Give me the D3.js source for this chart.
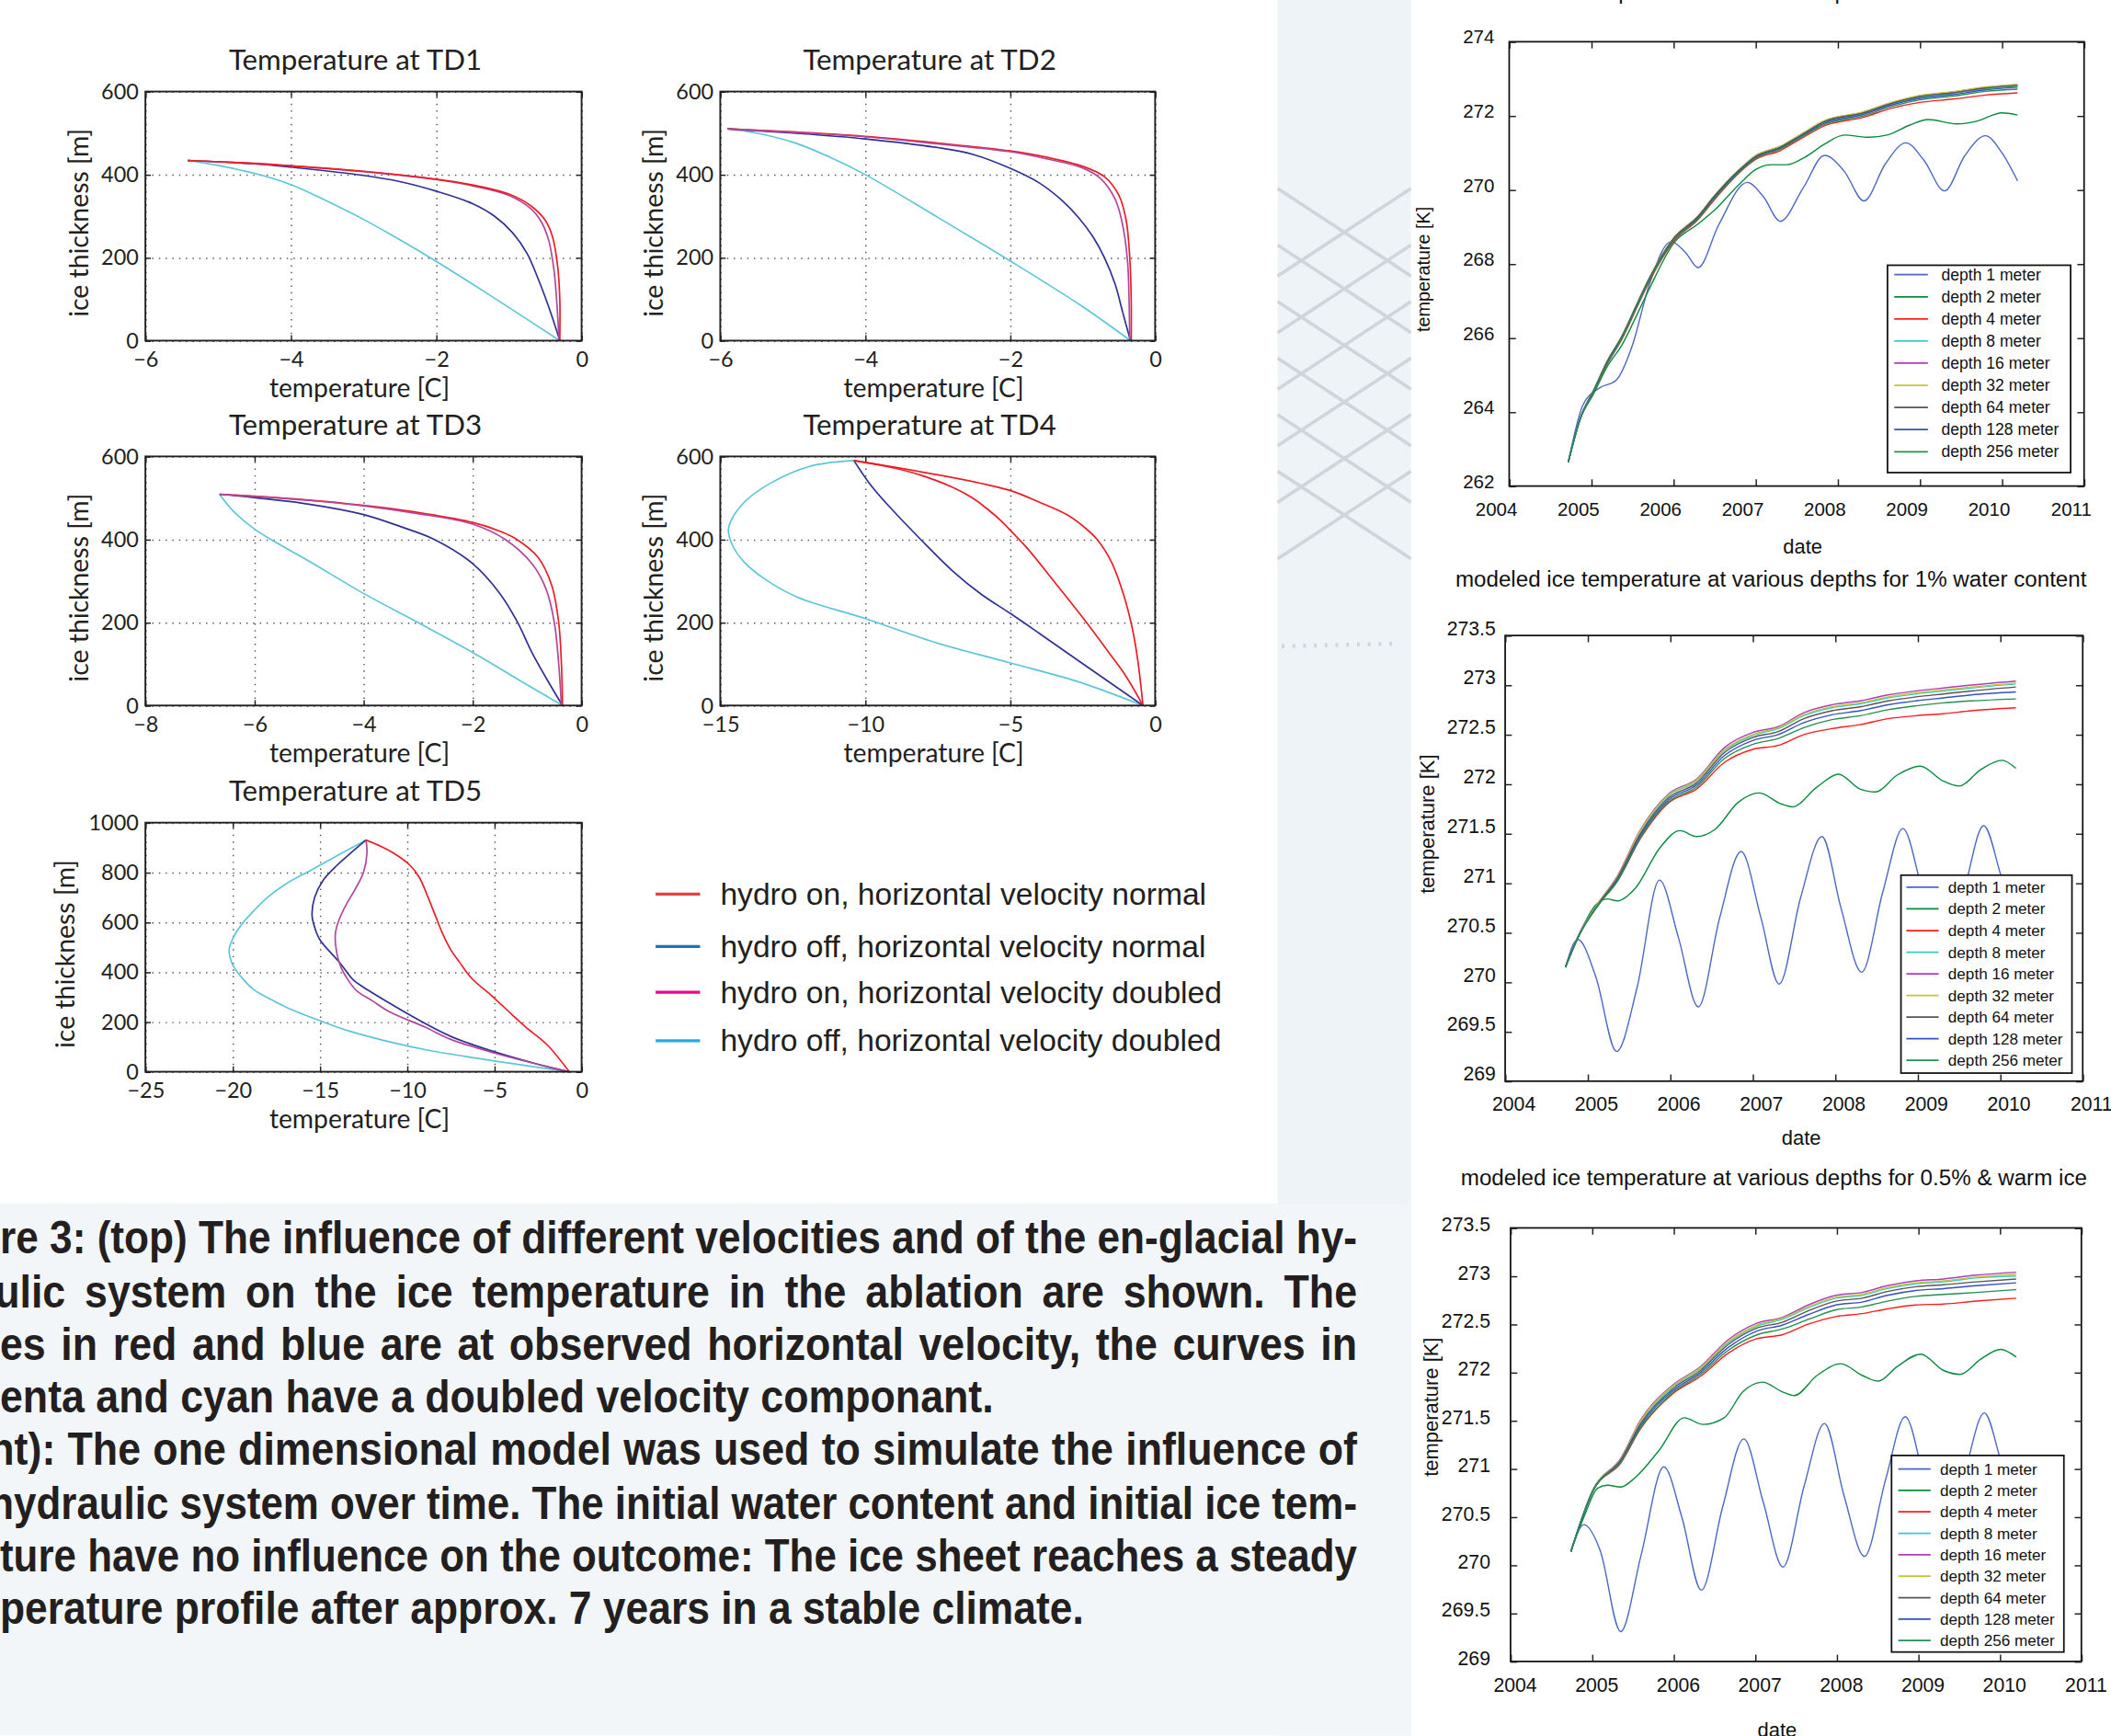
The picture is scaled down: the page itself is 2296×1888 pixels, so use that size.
<!DOCTYPE html>
<html>
<head>
<meta charset="utf-8">
<script src="https://cdn.jsdelivr.net/npm/d3@7"></script>
<style>
  body { margin: 0; background: #fff; }
  svg { display: block; }
</style>
</head>
<body>
<div id="chart"></div>
<script>
const W = 2296;
const H = 1888;
const S = W / 1568; // layout numbers below are in a 1568-wide frame, scaled up once

// ---------- temperature profiles: [temperature C, ice thickness m] ----------
const td1Red = [[-5.42,434],[-4.5,427],[-4,421],[-3,408],[-2,389],[-1.5,375],[-1,353],[-0.7,325],[-0.5,290],[-0.4,250],[-0.33,180],[-0.3,100],[-0.3,0]];
const td1Blue = [[-5.42,434],[-4.5,426],[-4,418],[-3,398],[-2.5,383],[-2,360],[-1.5,330],[-1.2,300],[-0.95,260],[-0.75,210],[-0.6,150],[-0.45,80],[-0.3,0]];
const td1Magenta = [[-5.42,434],[-4,421],[-3,407],[-2,388],[-1.5,373],[-1,350],[-0.7,318],[-0.55,285],[-0.45,240],[-0.38,170],[-0.34,90],[-0.31,0]];
const td1Cyan = [[-5.42,434],[-5,422],[-4.5,403],[-4,376],[-3.5,336],[-3,292],[-2.5,243],[-2,191],[-1.5,136],[-1,80],[-0.3,0]];

const td2Red = [[-5.9,510],[-5,503],[-4,492],[-3,476],[-2,457],[-1.5,442],[-1,420],[-0.7,395],[-0.5,350],[-0.4,290],[-0.35,200],[-0.33,100],[-0.33,0]];
const td2Blue = [[-5.9,510],[-5,500],[-4,486],[-3,465],[-2.5,448],[-2,415],[-1.6,380],[-1.3,340],[-1.05,295],[-0.85,248],[-0.7,200],[-0.55,135],[-0.45,70],[-0.34,0]];
const td2Magenta = [[-5.9,510],[-5,502],[-4,491],[-3,474],[-2,455],[-1.5,438],[-1,416],[-0.75,390],[-0.55,340],[-0.45,280],[-0.38,190],[-0.36,100],[-0.35,0]];
const td2Cyan = [[-5.9,510],[-5.5,500],[-5,478],[-4.5,443],[-4,400],[-3,297],[-2,192],[-1,82],[-0.34,0]];

const td3Red = [[-6.64,509],[-5,495],[-4,482],[-3,465],[-2,441],[-1.5,420],[-1.2,401],[-0.8,357],[-0.55,290],[-0.42,200],[-0.37,100],[-0.35,0]];
const td3Blue = [[-6.64,509],[-5,485],[-4,460],[-3.3,430],[-2.7,400],[-2,342],[-1.5,270],[-1.18,202],[-0.9,125],[-0.6,55],[-0.35,0]];
const td3Magenta = [[-6.64,509],[-5,494],[-4,481],[-3,462],[-2,437],[-1.4,400],[-0.9,340],[-0.65,280],[-0.5,200],[-0.42,100],[-0.37,0]];
const td3Cyan = [[-6.64,509],[-6.4,470],[-6,425],[-5.5,385],[-5,348],[-4,270],[-3,200],[-2,128],[-1,50],[-0.35,0]];

const td4Red = [[-10.39,590],[-8,562],[-6,535],[-5,518],[-4,490],[-3,458],[-2.45,430],[-2,400],[-1.5,345],[-1.1,270],[-0.8,190],[-0.6,110],[-0.42,0]];
const td4Blue = [[-10.39,590],[-9.8,530],[-9.1,474],[-8.1,401],[-7,325],[-6,268],[-5,222],[-4,174],[-2.5,101],[-0.42,0]];
const td4Magenta = [[-10.39,590],[-9,572],[-8,553],[-7,526],[-6.3,500],[-5.8,474],[-5.3,444],[-4.9,415],[-4.4,378],[-3.5,300],[-2.5,212],[-1.6,128],[-1,70],[-0.42,0]];
const td4Cyan = [[-10.39,590],[-11.92,576],[-13.33,533],[-14.18,489],[-14.63,445],[-14.72,423],[-14.58,386],[-14.18,346],[-13.47,305],[-12.34,261],[-10.02,210],[-7.68,154],[-5.02,103],[-2.73,59],[-0.42,0]];

const td5Red = [[-12.36,930],[-11.5,905],[-10.8,879],[-9.85,830],[-9.3,780],[-8.8,700],[-8.4,630],[-8,560],[-7.5,490],[-7,440],[-6.3,375],[-5.1,302],[-4,230],[-3.2,179],[-2,110],[-0.71,0]];
const td5Blue = [[-12.36,930],[-13.2,880],[-14,830],[-14.8,770],[-15.3,700],[-15.45,630],[-15.3,580],[-15,530],[-13.85,437],[-13.1,370],[-12.2,326],[-11,275],[-9.85,228],[-7.5,142],[-5,80],[-2.5,30],[-0.71,0]];
const td5Magenta = [[-12.36,930],[-12.3,880],[-12.5,800],[-13,730],[-13.5,670],[-13.9,610],[-14.1,560],[-14.1,510],[-13.85,430],[-13.4,370],[-12.9,326],[-12,285],[-11,240],[-9,180],[-7.5,130],[-5,75],[-2.5,30],[-0.71,0]];
const td5Cyan = [[-12.36,930],[-14,868],[-15.5,810],[-16.9,756],[-18,700],[-18.8,645],[-19.5,590],[-19.95,540],[-20.2,490],[-20,430],[-19.5,380],[-18.8,330],[-17.8,290],[-16.9,258],[-15,205],[-13.4,165],[-11,120],[-8.7,85],[-6,54],[-4,33],[-0.71,0]];

const profileLegend = [
  "hydro on, horizontal velocity normal",
  "hydro off, horizontal velocity normal",
  "hydro on, horizontal velocity doubled",
  "hydro off, horizontal velocity doubled"
];

// ---------- modeled ice temperature time series [K] ----------
const years = [2004, 2005, 2006, 2007, 2008, 2009, 2010, 2011];
const depthLabels = ["depth 1 meter", "depth 2 meter", "depth 4 meter", "depth 8 meter", "depth 16 meter",
  "depth 32 meter", "depth 64 meter", "depth 128 meter", "depth 256 meter"];

// panel A (top)
const aDepth1 = [[2004.72,262.65],[2004.9,264.2],[2005.1,264.65],[2005.3,264.85],[2005.5,265.8],[2005.7,267.4],[2005.97,268.6],[2006.15,268.3],[2006.3,267.9],[2006.55,269.05],[2006.9,270.2],[2007.1,269.8],[2007.3,269.15],[2007.58,270.05],[2007.84,270.93],[2008.08,270.5],[2008.32,269.7],[2008.58,270.7],[2008.83,271.27],[2009.05,270.8],[2009.3,269.97],[2009.55,270.93],[2009.8,271.46],[2010.0,271.0],[2010.19,270.24]];
const aDepth2 = [[2004.72,262.65],[2004.86,263.78],[2005.03,264.5],[2005.2,265.25],[2005.37,265.8],[2005.55,266.6],[2005.7,267.3],[2006.0,268.55],[2006.3,269.08],[2006.5,269.45],[2006.8,270.15],[2007.0,270.55],[2007.2,270.68],[2007.38,270.68],[2007.6,270.88],[2007.85,271.25],[2008.08,271.48],[2008.38,271.42],[2008.6,271.48],[2008.88,271.75],[2009.1,271.9],[2009.45,271.78],[2009.7,271.86],[2010.0,272.08],[2010.19,272.02]];
const aTimes = [2004.72, 2004.86, 2005.03, 2005.2, 2005.37, 2005.55, 2005.7, 2006.0, 2006.3, 2006.5, 2006.8, 2007.0, 2007.3, 2007.55, 2007.85, 2008.3, 2008.65, 2009.0, 2009.4, 2009.8, 2010.19];
const aDepth4 = [262.65, 263.78, 264.55, 265.32, 265.96, 266.8, 267.5, 268.6, 269.2, 269.74, 270.46, 270.82, 271.06, 271.38, 271.74, 271.95, 272.2, 272.36, 272.45, 272.56, 272.62];
const aDepth8 = [262.65, 263.79, 264.58, 265.38, 266.02, 266.87, 267.57, 268.67, 269.27, 269.82, 270.52, 270.89, 271.14, 271.46, 271.84, 272.06, 272.32, 272.5, 272.6, 272.73, 272.8];
const aDepth16 = [262.65, 263.8, 264.6, 265.4, 266.04, 266.89, 267.59, 268.69, 269.29, 269.84, 270.54, 270.92, 271.17, 271.49, 271.87, 272.09, 272.35, 272.54, 272.64, 272.77, 272.84];
const aDepth32 = [262.65, 263.8, 264.6, 265.4, 266.05, 266.9, 267.6, 268.7, 269.3, 269.85, 270.55, 270.93, 271.18, 271.5, 271.88, 272.1, 272.36, 272.55, 272.65, 272.78, 272.85];
const aDepth64 = [262.65, 263.8, 264.59, 265.39, 266.03, 266.88, 267.58, 268.68, 269.28, 269.83, 270.53, 270.9, 271.15, 271.47, 271.85, 272.07, 272.33, 272.52, 272.62, 272.75, 272.82];
const aDepth128 = [262.65, 263.79, 264.57, 265.36, 266.0, 266.85, 267.55, 268.65, 269.25, 269.8, 270.5, 270.87, 271.12, 271.44, 271.81, 272.03, 272.29, 272.47, 272.57, 272.7, 272.77];
const aDepth256 = [262.65, 263.78, 264.56, 265.34, 265.98, 266.83, 267.53, 268.63, 269.22, 269.77, 270.48, 270.85, 271.1, 271.42, 271.78, 271.99, 272.25, 272.43, 272.53, 272.66, 272.72];

// panel B (1% water content)
const bDepth1 = [[2004.73,270.15],[2004.88,270.43],[2005.1,270.05],[2005.35,269.3],[2005.6,269.95],[2005.87,271.03],[2006.1,270.45],[2006.34,269.75],[2006.6,270.65],[2006.86,271.32],[2007.1,270.65],[2007.32,269.98],[2007.58,270.85],[2007.84,271.47],[2008.07,270.75],[2008.32,270.1],[2008.58,270.92],[2008.82,271.55],[2009.05,270.95],[2009.32,270.2],[2009.57,270.95],[2009.8,271.58],[2010.0,271.1],[2010.19,270.5]];
const bDepth2 = [[2004.73,270.15],[2004.9,270.49],[2005.1,270.78],[2005.24,270.84],[2005.36,270.82],[2005.58,270.95],[2005.87,271.35],[2006.12,271.53],[2006.32,271.47],[2006.54,271.54],[2006.83,271.82],[2007.08,271.91],[2007.34,271.8],[2007.48,271.77],[2007.78,271.97],[2008.04,272.1],[2008.3,271.95],[2008.49,271.92],[2008.75,272.09],[2009.03,272.18],[2009.31,272.03],[2009.5,271.98],[2009.77,272.15],[2010.02,272.24],[2010.19,272.16]];
const bTimes = [2004.73, 2004.9, 2005.13, 2005.36, 2005.64, 2005.98, 2006.32, 2006.66, 2007.0, 2007.31, 2007.62, 2007.96, 2008.3, 2008.64, 2008.98, 2009.31, 2009.65, 2010.19];
const bDepth4 = [270.15, 270.48, 270.78, 271.02, 271.45, 271.81, 271.95, 272.22, 272.35, 272.39, 272.5, 272.56, 272.6, 272.66, 272.69, 272.71, 272.74, 272.77];
const bDepth8 = [270.15, 270.49, 270.8, 271.06, 271.52, 271.88, 272.03, 272.34, 272.49, 272.56, 272.69, 272.77, 272.81, 272.87, 272.91, 272.94, 272.97, 273.01];
const bDepth16 = [270.15, 270.49, 270.8, 271.07, 271.54, 271.9, 272.05, 272.37, 272.52, 272.58, 272.72, 272.8, 272.84, 272.9, 272.94, 272.97, 273.0, 273.04];
const bDepth32 = [270.15, 270.49, 270.8, 271.06, 271.53, 271.89, 272.04, 272.35, 272.5, 272.57, 272.7, 272.78, 272.82, 272.88, 272.92, 272.95, 272.98, 273.02];
const bDepth64 = [270.15, 270.48, 270.79, 271.05, 271.5, 271.86, 272.01, 272.32, 272.47, 272.53, 272.66, 272.74, 272.78, 272.84, 272.88, 272.91, 272.94, 272.98];
const bDepth128 = [270.15, 270.48, 270.78, 271.03, 271.48, 271.84, 271.99, 272.29, 272.44, 272.5, 272.62, 272.7, 272.74, 272.8, 272.84, 272.87, 272.9, 272.93];
const bDepth256 = [270.15, 270.48, 270.78, 271.02, 271.46, 271.82, 271.97, 272.26, 272.4, 272.46, 272.57, 272.65, 272.69, 272.75, 272.79, 272.82, 272.84, 272.86];

// panel C (0.5% & warm ice)
const cDepth1 = [[2004.74,270.14],[2004.9,270.42],[2005.1,270.15],[2005.35,269.31],[2005.6,270.1],[2005.88,271.02],[2006.1,270.5],[2006.34,269.74],[2006.6,270.6],[2006.86,271.31],[2007.1,270.65],[2007.34,269.98],[2007.6,270.82],[2007.85,271.47],[2008.09,270.72],[2008.34,270.09],[2008.6,270.89],[2008.84,271.54],[2009.07,270.9],[2009.32,270.15],[2009.57,270.95],[2009.81,271.58],[2010.0,271.12],[2010.2,270.5]];
const cDepth2 = [[2004.74,270.14],[2004.9,270.5],[2005.07,270.8],[2005.19,270.83],[2005.35,270.81],[2005.53,270.91],[2005.82,271.19],[2006.13,271.53],[2006.36,271.46],[2006.62,271.53],[2006.85,271.8],[2007.09,271.9],[2007.33,271.8],[2007.48,271.76],[2007.76,271.97],[2008.05,272.09],[2008.31,271.97],[2008.51,271.91],[2008.74,272.06],[2009.03,272.19],[2009.31,272.02],[2009.51,271.98],[2009.77,272.14],[2010.01,272.24],[2010.2,272.16]];
const cTimes = [2004.74, 2005.01, 2005.36, 2005.59, 2005.99, 2006.33, 2006.67, 2007.02, 2007.33, 2007.65, 2007.99, 2008.31, 2008.62, 2008.97, 2009.31, 2009.71, 2010.2];
const cDepth4 = [270.14, 270.77, 271.07, 271.41, 271.78, 271.96, 272.2, 272.35, 272.39, 272.5, 272.58, 272.61, 272.66, 272.7, 272.71, 272.74, 272.77];
const cDepth8 = [270.14, 270.78, 271.11, 271.48, 271.85, 272.04, 272.31, 272.48, 272.55, 272.67, 272.77, 272.8, 272.87, 272.92, 272.94, 272.98, 273.0];
const cDepth16 = [270.14, 270.78, 271.12, 271.5, 271.87, 272.06, 272.34, 272.51, 272.57, 272.7, 272.8, 272.83, 272.9, 272.95, 272.97, 273.01, 273.04];
const cDepth32 = [270.14, 270.78, 271.11, 271.49, 271.86, 272.05, 272.32, 272.49, 272.56, 272.68, 272.78, 272.81, 272.88, 272.93, 272.95, 272.99, 273.02];
const cDepth64 = [270.14, 270.77, 271.1, 271.46, 271.83, 272.02, 272.29, 272.46, 272.52, 272.64, 272.74, 272.77, 272.84, 272.89, 272.91, 272.94, 272.97];
const cDepth128 = [270.14, 270.77, 271.09, 271.44, 271.81, 272.0, 272.26, 272.43, 272.49, 272.6, 272.7, 272.73, 272.8, 272.85, 272.87, 272.9, 272.93];
const cDepth256 = [270.14, 270.77, 271.08, 271.42, 271.79, 271.98, 272.23, 272.39, 272.45, 272.55, 272.65, 272.68, 272.74, 272.79, 272.81, 272.83, 272.86];

const captionLines = [
  "re 3: (top) The influence of different velocities and of the en-glacial hy-",
  "ulic system on the ice temperature in the ablation are shown. The",
  "es in red and blue are at observed horizontal velocity, the curves in",
  "enta and cyan have a doubled velocity componant.",
  "nt): The one dimensional model was used to simulate the influence of",
  "hydraulic system over time. The initial water content and initial ice tem-",
  "ture have no influence on the outcome: The ice sheet reaches a steady",
  "perature profile after approx. 7 years in a stable climate."
];

// ---------- styling ----------
const INK = "#231f20";
const leftFont = "Lato, 'Open Sans', sans-serif";
const arial = "'Liberation Sans', Arial, sans-serif";
const curveColors = { red: "#ed1c24", blue: "#2e3192", magenta: "#b0479d", cyan: "#5cc6d8" };
const legendColors = ["#e8403a", "#1c75bc", "#ec008c", "#27aae1"];
const depthColors = ["#4a67c4", "#0a8a3c", "#ff1c1c", "#3cc8c8", "#b03cb8", "#c4c43c", "#555555", "#3650bf", "#219150"];

const svg = d3.select("#chart").append("svg").attr("width", W).attr("height", H);
const root = svg.append("g").attr("transform", `scale(${S})`);

// poster background
root.append("rect").attr("width", 1568).attr("height", 1289).attr("fill", "#fff");
root.append("rect").attr("x", 949).attr("y", 0).attr("width", 99).attr("height", 1289).attr("fill", "#eef3f8");
root.append("rect").attr("x", 0).attr("y", 894).attr("width", 1048).attr("height", 395).attr("fill", "#f2f6f9");
const texture = root.append("g").attr("stroke", "#c3c9d0").attr("stroke-width", 2.5).attr("opacity", 0.7);
d3.range(6).forEach(i => {
  texture.append("line").attr("x1", 949).attr("y1", 140 + i * 42).attr("x2", 1048).attr("y2", 205 + i * 42);
  texture.append("line").attr("x1", 949).attr("y1", 205 + i * 42).attr("x2", 1048).attr("y2", 140 + i * 42);
});
texture.append("line").attr("x1", 952).attr("y1", 480).attr("x2", 1040).attr("y2", 478)
  .attr("stroke-dasharray", "2,6").attr("stroke-width", 3);

function fitWidth(sel, target) {
  const fs = +sel.attr("font-size");
  const w = sel.node().getComputedTextLength();
  const nf = fs * target / w;
  sel.attr("font-size", nf);
  return nf;
}

// ---------- profile panels ----------
const profilePanels = [
  { title: "Temperature at TD1", x0: 108, x1: 432, y0: 68, y1: 253, xDomain: [-6, 0], xTicks: [-6, -4, -2, 0], yDomain: [0, 600], yTicks: [0, 200, 400, 600], ylx: 58,
    series: [[td1Cyan, "cyan"], [td1Blue, "blue"], [td1Magenta, "magenta"], [td1Red, "red"]] },
  { title: "Temperature at TD2", x0: 535, x1: 858, y0: 68, y1: 253, xDomain: [-6, 0], xTicks: [-6, -4, -2, 0], yDomain: [0, 600], yTicks: [0, 200, 400, 600], ylx: 485,
    series: [[td2Cyan, "cyan"], [td2Blue, "blue"], [td2Red, "red"], [td2Magenta, "magenta"]] },
  { title: "Temperature at TD3", x0: 108, x1: 432, y0: 339, y1: 524, xDomain: [-8, 0], xTicks: [-8, -6, -4, -2, 0], yDomain: [0, 600], yTicks: [0, 200, 400, 600], ylx: 58,
    series: [[td3Cyan, "cyan"], [td3Blue, "blue"], [td3Red, "red"], [td3Magenta, "magenta"]] },
  { title: "Temperature at TD4", x0: 535, x1: 858, y0: 339, y1: 524, xDomain: [-15, 0], xTicks: [-15, -10, -5, 0], yDomain: [0, 600], yTicks: [0, 200, 400, 600], ylx: 485,
    series: [[td4Cyan, "cyan"], [td4Blue, "blue"], [td4Magenta, "red"], [td4Red, "red"]] },
  { title: "Temperature at TD5", x0: 108, x1: 432, y0: 611, y1: 796, xDomain: [-25, 0], xTicks: [-25, -20, -15, -10, -5, 0], yDomain: [0, 1000], yTicks: [0, 200, 400, 600, 800, 1000], ylx: 48,
    series: [[td5Cyan, "cyan"], [td5Blue, "blue"], [td5Magenta, "magenta"], [td5Red, "red"]] }
];

let titleFs = null, xlabFs = null, ylabFs = null;
const intFmt = d3.format("d");

function styleAxis(a, fs, family) {
  a.select(".domain").remove();
  a.selectAll(".tick line").attr("stroke", INK).attr("stroke-width", 1);
  a.selectAll("text").attr("font-size", fs).attr("font-family", family).attr("fill", INK);
}

profilePanels.forEach(p => {
  const g = root.append("g");
  const x = d3.scaleLinear().domain(p.xDomain).range([p.x0, p.x1]);
  const y = d3.scaleLinear().domain(p.yDomain).range([p.y1, p.y0]);
  const w = p.x1 - p.x0, h = p.y1 - p.y0;

  // dotted grid
  g.append("g").attr("transform", `translate(0,${p.y1})`)
    .call(d3.axisBottom(x).tickValues(p.xTicks).tickSize(-h).tickFormat(""))
    .call(a => a.select(".domain").remove())
    .selectAll("line").attr("stroke", "#555").attr("stroke-width", 1).attr("stroke-dasharray", "1,4");
  g.append("g").attr("transform", `translate(${p.x0},0)`)
    .call(d3.axisLeft(y).tickValues(p.yTicks).tickSize(-w).tickFormat(""))
    .call(a => a.select(".domain").remove())
    .selectAll("line").attr("stroke", "#555").attr("stroke-width", 1).attr("stroke-dasharray", "1,4");

  const line = d3.line().x(d => x(d[0])).y(d => y(d[1])).curve(d3.curveCatmullRom.alpha(0.5));
  p.series.forEach(([data, c]) => {
    g.append("path").attr("d", line(data)).attr("fill", "none")
      .attr("stroke", curveColors[c]).attr("stroke-width", 1.15);
  });

  g.append("rect").attr("x", p.x0).attr("y", p.y0).attr("width", w).attr("height", h)
    .attr("fill", "none").attr("stroke", INK).attr("stroke-width", 1.3);

  g.append("g").attr("transform", `translate(0,${p.y1})`)
    .call(d3.axisBottom(x).tickValues(p.xTicks).tickSize(-4).tickPadding(8).tickFormat(intFmt))
    .call(a => styleAxis(a, 16, leftFont));
  g.append("g").attr("transform", `translate(0,${p.y0})`)
    .call(d3.axisTop(x).tickValues(p.xTicks).tickSize(-4).tickFormat(""))
    .call(a => styleAxis(a, 16, leftFont));
  g.append("g").attr("transform", `translate(${p.x0},0)`)
    .call(d3.axisLeft(y).tickValues(p.yTicks).tickSize(-4).tickPadding(5).tickFormat(intFmt))
    .call(a => styleAxis(a, 16, leftFont));
  g.append("g").attr("transform", `translate(${p.x1},0)`)
    .call(d3.axisRight(y).tickValues(p.yTicks).tickSize(-4).tickFormat(""))
    .call(a => styleAxis(a, 16, leftFont));

  const cx = (p.x0 + p.x1) / 2;
  const t = g.append("text").attr("x", cx - 6).attr("y", p.y0 - 16).attr("text-anchor", "middle")
    .attr("font-family", leftFont).attr("font-size", titleFs || 20).attr("fill", INK).text(p.title);
  if (!titleFs) titleFs = fitWidth(t, 188);

  const xl = g.append("text").attr("x", cx - 3).attr("y", p.y1 + 42).attr("text-anchor", "middle")
    .attr("font-family", leftFont).attr("font-size", xlabFs || 18).attr("fill", INK).text("temperature [C]");
  if (!xlabFs) xlabFs = fitWidth(xl, 134);

  const yl = g.append("text").attr("transform", `translate(${p.ylx},${(p.y0 + p.y1) / 2 + 5}) rotate(-90)`)
    .attr("text-anchor", "middle").attr("dominant-baseline", "central")
    .attr("font-family", leftFont).attr("font-size", ylabFs || 18).attr("fill", INK).text("ice thickness [m]");
  if (!ylabFs) ylabFs = fitWidth(yl, 140);
});

// profile legend
const legRows = [664, 703, 737, 773];
let legFs = null;
profileLegend.forEach((label, i) => {
  root.append("line").attr("x1", 487).attr("x2", 520).attr("y1", legRows[i]).attr("y2", legRows[i])
    .attr("stroke", legendColors[i]).attr("stroke-width", 2.2);
  const t = root.append("text").attr("x", 535).attr("y", legRows[i]).attr("dominant-baseline", "central")
    .attr("font-family", arial).attr("font-size", legFs || 22).attr("fill", INK).text(label);
  if (!legFs) legFs = fitWidth(t, 361);
});

// ---------- time series panels ----------
const clusterDepths = (times, arrays) => arrays.map(vals => d3.zip(times, vals));
const panelA = {
  x0: 1121, x1: 1548, y0: 31, y1: 361, yDomain: [262, 274], yTicks: [262, 264, 266, 268, 270, 272, 274],
  xDx: -10, yPad: 11, yDy: -4, tickFs: 14, title: "modeled ice temperature at various depths for 2% water content",
  titleY: -1, titleX: 1081, ylab: [1057, 200, 13.5], date: [1339, 411],
  legend: { x0: 1402, x1: 1538, y0: 197, y1: 351, r0: 204, r1: 335.5, s0: 1407, s1: 1432, tx: 1442, fs: 12 },
  series: [aDepth1, aDepth2, ...clusterDepths(aTimes, [aDepth4, aDepth8, aDepth16, aDepth32, aDepth64, aDepth128, aDepth256])]
};
const halfTicks = [269, 269.5, 270, 270.5, 271, 271.5, 272, 272.5, 273, 273.5];
const panelB = {
  x0: 1118, x1: 1547, y0: 472, y1: 803, yDomain: [269, 273.5], yTicks: halfTicks,
  xDx: 6, yPad: 7, yDy: -6, tickFs: 14.5, title: "modeled ice temperature at various depths for 1% water content",
  titleY: 436, titleX: 1081, ylab: [1060, 612, 15], date: [1338, 850],
  legend: { x0: 1412, x1: 1539, y0: 650, y1: 797, r0: 659, r1: 787.5, s0: 1416, s1: 1440, tx: 1447, fs: 11.7 },
  series: [bDepth1, bDepth2, ...clusterDepths(bTimes, [bDepth4, bDepth8, bDepth16, bDepth32, bDepth64, bDepth128, bDepth256])]
};
const panelC = {
  x0: 1122, x1: 1546, y0: 912, y1: 1234, yDomain: [269, 273.5], yTicks: halfTicks,
  xDx: 3, yPad: 15, yDy: -3, tickFs: 14.5, title: "modeled ice temperature at various depths for 0.5% & warm ice",
  titleY: 880, titleX: 1085, ylab: [1063, 1045, 15], date: [1320, 1290],
  legend: { x0: 1405, x1: 1533, y0: 1081, y1: 1227, r0: 1091, r1: 1218.5, s0: 1410, s1: 1434, tx: 1441, fs: 11.7 },
  series: [cDepth1, cDepth2, ...clusterDepths(cTimes, [cDepth4, cDepth8, cDepth16, cDepth32, cDepth64, cDepth128, cDepth256])]
};

let tsTitleFs = null;
[panelB, panelA, panelC].forEach(p => {
  const g = root.append("g");
  const x = d3.scaleLinear().domain([2004, 2011]).range([p.x0, p.x1]);
  const y = d3.scaleLinear().domain(p.yDomain).range([p.y1, p.y0]);
  const line = d3.line().x(d => x(d[0])).y(d => y(d[1])).curve(d3.curveMonotoneX);

  p.series.forEach((data, i) => {
    g.append("path").attr("d", line(data)).attr("fill", "none")
      .attr("stroke", depthColors[i]).attr("stroke-width", 0.95);
  });

  g.append("rect").attr("x", p.x0).attr("y", p.y0).attr("width", p.x1 - p.x0).attr("height", p.y1 - p.y0)
    .attr("fill", "none").attr("stroke", "#111").attr("stroke-width", 1.2);

  const bx = g.append("g").attr("transform", `translate(0,${p.y1})`)
    .call(d3.axisBottom(x).tickValues(years).tickSize(-5).tickPadding(12).tickFormat(intFmt))
    .call(a => styleAxis(a, p.tickFs, arial));
  bx.selectAll("text").attr("dx", p.xDx).attr("fill", "#111");
  g.append("g").attr("transform", `translate(0,${p.y0})`)
    .call(d3.axisTop(x).tickValues(years).tickSize(-5).tickFormat(""))
    .call(a => styleAxis(a, p.tickFs, arial));
  const ly = g.append("g").attr("transform", `translate(${p.x0},0)`)
    .call(d3.axisLeft(y).tickValues(p.yTicks).tickSize(-5).tickPadding(p.yPad).tickFormat(d => String(d)))
    .call(a => styleAxis(a, p.tickFs, arial));
  ly.selectAll("text").attr("dy", p.yDy + p.tickFs * 0.35).attr("fill", "#111");
  g.append("g").attr("transform", `translate(${p.x1},0)`)
    .call(d3.axisRight(y).tickValues(p.yTicks).tickSize(-5).tickFormat(""))
    .call(a => styleAxis(a, p.tickFs, arial));

  const tt = g.append("text").attr("x", p.titleX).attr("y", p.titleY)
    .attr("font-family", arial).attr("font-size", tsTitleFs || 15.5).attr("fill", "#111").text(p.title);
  if (!tsTitleFs) tsTitleFs = fitWidth(tt, 469);

  g.append("text").attr("transform", `translate(${p.ylab[0]},${p.ylab[1]}) rotate(-90)`)
    .attr("text-anchor", "middle").attr("dominant-baseline", "central")
    .attr("font-family", arial).attr("font-size", p.ylab[2]).attr("fill", "#111").text("temperature [K]");
  g.append("text").attr("x", p.date[0]).attr("y", p.date[1]).attr("text-anchor", "middle")
    .attr("font-family", arial).attr("font-size", 15).attr("fill", "#111").text("date");

  // legend
  const L = p.legend;
  g.append("rect").attr("x", L.x0).attr("y", L.y0).attr("width", L.x1 - L.x0).attr("height", L.y1 - L.y0)
    .attr("fill", "#fff").attr("stroke", "#111").attr("stroke-width", 1.2);
  const rowY = d3.scaleLinear().domain([0, depthLabels.length - 1]).range([L.r0, L.r1]);
  depthLabels.forEach((lab, i) => {
    g.append("line").attr("x1", L.s0).attr("x2", L.s1).attr("y1", rowY(i)).attr("y2", rowY(i))
      .attr("stroke", depthColors[i]).attr("stroke-width", 1.2);
    g.append("text").attr("x", L.tx).attr("y", rowY(i)).attr("dominant-baseline", "central")
      .attr("font-family", arial).attr("font-size", L.fs).attr("fill", "#111").text(lab);
  });
});

// ---------- caption (condensed bold, justified) ----------
const capBase = [931, 971, 1010, 1049, 1088, 1128, 1167, 1206];
const capStart = [0, -4, 0, 0, -8, -8, 0, 0];
const capEnd = [1008, 1008, 1008, 738, 1008, 1008, 1008, 805];
const capJustify = [true, true, true, false, true, true, true, false];
const capFont = "'Liberation Sans Narrow', 'Arial Narrow', sans-serif";
const squeeze = 0.88; // glyphs narrower than the installed narrow face
const probe = root.append("text").attr("x", 0).attr("y", 0).attr("font-family", capFont)
  .attr("font-weight", "bold").attr("font-size", 29).text(captionLines[3]);
const capFs = fitWidth(probe, 738 / squeeze);
probe.remove();

captionLines.forEach((t, i) => {
  const txt = root.append("text")
    .attr("transform", `translate(${capStart[i]},${capBase[i]}) scale(${squeeze},1)`)
    .attr("font-family", capFont).attr("font-weight", "bold").attr("font-size", capFs)
    .attr("fill", INK).text(t);
  const w = txt.node().getComputedTextLength();
  const target = (capEnd[i] - capStart[i]) / squeeze;
  if (capJustify[i] && w < target) {
    const spaces = (t.match(/ /g) || []).length;
    txt.attr("word-spacing", (target - w) / spaces);
  } else if (capJustify[i] || w > target) {
    txt.attr("textLength", target).attr("lengthAdjust", "spacingAndGlyphs");
  }
});
</script>
</body>
</html>
